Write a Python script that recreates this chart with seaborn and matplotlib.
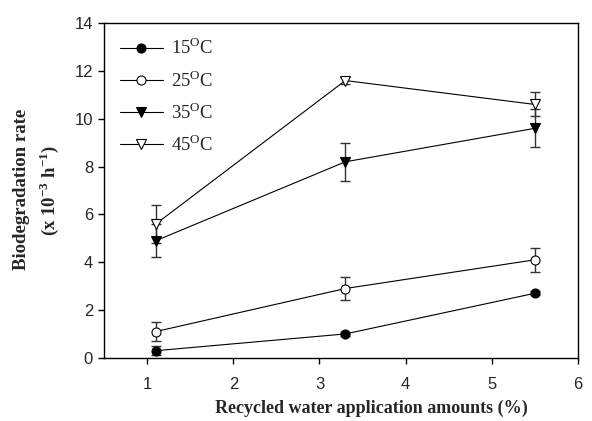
import seaborn as sns
import matplotlib.pyplot as plt
import pandas as pd

# recycled water amounts (%)
amounts = [1.1, 3.3, 5.5]
temps = ['15', '25', '35', '45']
rate_15 = [0.3, 1.0, 2.7]
err_15 = [0.2, 0.07, 0.08]
rate_25 = [1.1, 2.9, 4.1]
err_25 = [0.4, 0.5, 0.5]
rate_35 = [4.9, 8.2, 9.6]
err_35 = [0.7, 0.8, 0.8]
rate_45 = [5.6, 11.6, 10.6]
err_45 = [0.8, 0.15, 0.5]

rates = [rate_15, rate_25, rate_35, rate_45]
errs = [err_15, err_25, err_35, err_45]

rows = []
for t, r, e in zip(temps, rates, errs):
    for a, v, s in zip(amounts, r, e):
        rows.append({'amount': a, 'rate': v, 'err': s,
                     'temp': t + '$^{\\mathrm{O}}$C'})
data = pd.DataFrame(rows)

sns.set_style('ticks')
plt.rcParams['font.family'] = ['Liberation Sans', 'DejaVu Sans']
plt.rcParams['mathtext.fontset'] = 'custom'
plt.rcParams['mathtext.rm'] = 'Liberation Serif'
plt.rcParams['mathtext.bf'] = 'Liberation Serif:bold'

fig, ax = plt.subplots(figsize=(5.92, 4.21), dpi=100)
fig.subplots_adjust(left=0.176, right=0.976, top=0.945, bottom=0.15)

styles = {'marker': ['o', 'o', 'v', 'v'],
          'face': ['black', 'white', 'black', 'white']}

for i, (label, grp) in enumerate(data.groupby('temp', sort=False)):
    ax.errorbar(grp['amount'], grp['rate'], yerr=grp['err'], fmt='none',
                ecolor='#333333', elinewidth=1.0, capsize=3.8, capthick=1.0, zorder=2)
    sns.lineplot(data=grp, x='amount', y='rate', ax=ax, color='black', lw=0.8,
                 marker=styles['marker'][i], markersize=6.5,
                 markerfacecolor=styles['face'][i], markeredgecolor='black',
                 markeredgewidth=0.8, label=label, zorder=3)

ax.set_xlim(0.5, 6)
ax.set_ylim(0, 14)
ax.set_xticks([1, 2, 3, 4, 5, 6])
ax.set_yticks(range(0, 15, 2))
ax.tick_params(labelsize=12, length=4.5, width=1, color='black', direction='out')
ax.tick_params(axis='x', pad=9)
for sp in ax.spines.values():
    sp.set_visible(True)
    sp.set_color('black')
    sp.set_linewidth(1.0)

ax.set_xlabel('Recycled water application amounts (%)', fontsize=13,
              fontweight='bold', family='Liberation Serif')
ax.xaxis.set_label_coords(0.565, -0.125)
ax.set_ylabel('')
fig.text(0.036, 0.549, 'Biodegradation rate', rotation=90, fontsize=13.5,
         fontweight='bold', family='Liberation Serif', ha='center', va='center')
fig.text(0.082, 0.547, '(x 10$^{\\mathbf{-3}}$ h$^{\\mathbf{-1}}$)', rotation=90,
         fontsize=13.5, fontweight='bold', family='Liberation Serif',
         ha='center', va='center')

leg = ax.legend(loc='upper left', frameon=False, handlelength=2.3,
                handletextpad=0.45, labelspacing=0.6,
                prop={'family': 'Liberation Serif', 'size': 13.5},
                bbox_to_anchor=(-0.003, 1.007))

fig.savefig('out.png', dpi=100)
